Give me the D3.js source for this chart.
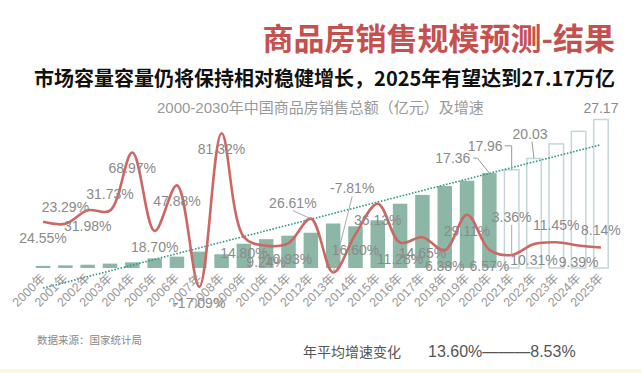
<!DOCTYPE html>
<html>
<head>
<meta charset="utf-8">
<script src="https://cdn.jsdelivr.net/npm/d3@7"></script>
<style>
  body { margin: 0; background: #fff; }
  svg { display: block; font-family: "Liberation Sans", "Noto Sans CJK SC", sans-serif; }
</style>
</head>
<body>
<div id="chart"></div>
<script>
// years, sales (万亿元) and growth rate (%)
var years = ['2000年','2001年','2002年','2003年','2004年','2005年','2006年','2007年','2008年','2009年',
  '2010年','2011年','2012年','2013年','2014年','2015年','2016年','2017年','2018年','2019年',
  '2020年','2021年','2022年','2023年','2024年','2025年'];
var sales = [0.39, 0.49, 0.60, 0.80, 1.04, 1.76, 2.08, 2.99, 2.51, 4.44,
  5.27, 5.91, 6.45, 8.14, 7.63, 8.73, 11.76, 13.37, 14.99, 15.97,
  17.36, 17.96, 20.03, 22.70, 25.00, 27.17];
var growth = [24.55, 23.29, 31.98, 31.73, 68.97, 18.70, 47.88, -17.09, 81.32, 14.80,
  9.24, 10.93, 26.61, -7.81, 16.60, 36.13, 11.28, 14.65, 6.38, 29.11,
  6.57, 3.36, 10.31, 11.45, 9.39, 8.14];
var forecastFrom = '2021年';
var barLabelYears = ['2020年', '2021年', '2022年', '2025年'];

// where each growth label sits: b = below point, a = above, l = with leader line
var growthPlace = ['b','a','b','a','b','b','b','b','b','b','b','b','l','l','b','b','b','b','b','b','b','l','b','a','b','a'];
var leaderOffsets = { '2012年': [-18, -16], '2013年': [19, -84], '2021年': [0, -38] };
var barLabelOffsets = {
  '2020年': { dx: -19, dy: -10, anchor: 'end', leader: [[-16, -15], [-12, -15], [0, 0]] },
  '2021年': { dx: -9, dy: -19, anchor: 'end', leader: [[-7, -24], [0, -24], [0, 0]] },
  '2022年': { dx: -4, dy: -20, anchor: 'middle', leader: [[-2, -17], [0, 0]] },
  '2025年': { dx: 0, dy: -6, anchor: 'middle', leader: null }
};

var W = 641, H = 373;
var svg = d3.select('#chart').append('svg').attr('width', W).attr('height', H);

// titles
svg.append('text').attr('x', 615).attr('y', 50).attr('text-anchor', 'end')
  .style('font-family', '"Noto Sans CJK SC", sans-serif').style('font-weight', 'bold')
  .style('font-size', '31px').style('fill', '#c5514f')
  .text('商品房销售规模预测-结果');
svg.append('text').attr('x', 615).attr('y', 86).attr('text-anchor', 'end')
  .style('font-family', '"Noto Sans CJK SC", sans-serif').style('font-weight', 'bold')
  .style('font-size', '20px').style('fill', '#111')
  .text('市场容量容量仍将保持相对稳健增长，2025年有望达到27.17万亿');
svg.append('text').attr('x', 157).attr('y', 113)
  .style('font-size', '15px').style('fill', '#999')
  .text('2000-2030年中国商品房销售总额（亿元）及增速');

var x = d3.scaleBand().domain(years).range([28, 616]).padding(0.35);
var y = d3.scaleLinear().domain([0, 30]).range([268, 104]);
var yg = d3.scaleLinear().domain([-5, 100]).range([268, 104]);
var cx = function (d) { return x(d) + x.bandwidth() / 2; };

var data = years.map(function (d, i) {
  return { year: d, sales: sales[i], growth: growth[i], place: growthPlace[i], fc: i >= years.indexOf(forecastFrom) };
});

// bars
svg.selectAll('.bar').data(data).enter().append('rect')
  .attr('x', function (d) { return x(d.year); })
  .attr('y', function (d) { return y(d.sales); })
  .attr('width', x.bandwidth())
  .attr('height', function (d) { return y(0) - y(d.sales); })
  .style('fill', function (d) { return d.fc ? '#fff' : '#8cb7a6'; })
  .style('stroke', function (d) { return d.fc ? '#c3d6d8' : 'none'; })
  .style('stroke-width', 1.5);

// linear trend line over all bars
var n = data.length, mx = (n - 1) / 2, my = d3.mean(sales);
var sxy = d3.sum(data, function (d, i) { return (i - mx) * (d.sales - my); });
var sxx = d3.sum(data, function (d, i) { return (i - mx) * (i - mx); });
var slope = sxy / sxx, icpt = my - slope * mx;
svg.append('line')
  .attr('x1', cx(years[0])).attr('y1', y(icpt))
  .attr('x2', cx(years[n - 1])).attr('y2', y(icpt + slope * (n - 1)))
  .style('stroke', '#2e9a8a').style('stroke-width', 1.6).style('stroke-dasharray', '1.6,1.6');

// growth line
var line = d3.line().x(function (d) { return cx(d.year); }).y(function (d) { return yg(d.growth); })
  .curve(d3.curveCatmullRom.alpha(0.5));
svg.append('path').datum(data).attr('d', line)
  .style('fill', 'none').style('stroke', '#cd6763').style('stroke-width', 2.6);

// x axis labels
svg.selectAll('.xl').data(years).enter().append('text')
  .attr('transform', function (d) { return 'translate(' + (cx(d) + 3) + ',279) rotate(-45)'; })
  .attr('text-anchor', 'end')
  .style('font-size', '12.5px').style('fill', '#999')
  .text(function (d) { return d; });

// growth labels
var gl = svg.selectAll('.gl').data(data).enter().append('g');
gl.filter(function (d) { return d.place === 'l'; }).append('line')
  .attr('x1', function (d) { return cx(d.year) + leaderOffsets[d.year][0]; })
  .attr('y1', function (d) { return yg(d.growth) + leaderOffsets[d.year][1] + 8; })
  .attr('x2', function (d) { return cx(d.year); })
  .attr('y2', function (d) { return yg(d.growth); })
  .style('stroke', '#aaa').style('stroke-width', 1);
gl.append('text')
  .attr('x', function (d) { return cx(d.year) + (d.place === 'l' ? leaderOffsets[d.year][0] : 0); })
  .attr('y', function (d) {
    var p = yg(d.growth);
    if (d.place === 'a') return p - 12;
    if (d.place === 'l') return p + leaderOffsets[d.year][1] + 5;
    return p + 21;
  })
  .attr('text-anchor', 'middle')
  .style('font-size', '14px').style('fill', '#8a8a8a')
  .text(function (d) { return d.growth.toFixed(2) + '%'; });

// bar value labels
var bl = svg.selectAll('.bl').data(data.filter(function (d) { return barLabelYears.indexOf(d.year) >= 0; }))
  .enter().append('g');
bl.filter(function (d) { return barLabelOffsets[d.year].leader; }).append('path')
  .attr('d', function (d) {
    var bx = cx(d.year), by = y(d.sales);
    return d3.line()(barLabelOffsets[d.year].leader.map(function (p) { return [bx + p[0], by + p[1]]; }));
  })
  .style('fill', 'none').style('stroke', '#999').style('stroke-width', 1);
bl.append('text')
  .attr('x', function (d) { return cx(d.year) + barLabelOffsets[d.year].dx; })
  .attr('y', function (d) { return y(d.sales) + barLabelOffsets[d.year].dy; })
  .attr('text-anchor', function (d) { return barLabelOffsets[d.year].anchor; })
  .style('font-size', '14px').style('fill', '#8a8a8a')
  .text(function (d) { return d.sales.toFixed(2); });

// footer
svg.append('text').attr('x', 37).attr('y', 344)
  .style('font-size', '10.5px').style('fill', '#888')
  .text('数据来源：国家统计局');
svg.append('text').attr('x', 303).attr('y', 357)
  .style('font-size', '14px').style('fill', '#555')
  .text('年平均增速变化');
svg.append('text').attr('x', 428).attr('y', 357)
  .style('font-size', '16px').style('fill', '#555')
  .text('13.60%———8.53%');
svg.append('rect').attr('x', 0).attr('y', 369).attr('width', W).attr('height', 4).style('fill', '#fdf8dc');
</script>
</body>
</html>
